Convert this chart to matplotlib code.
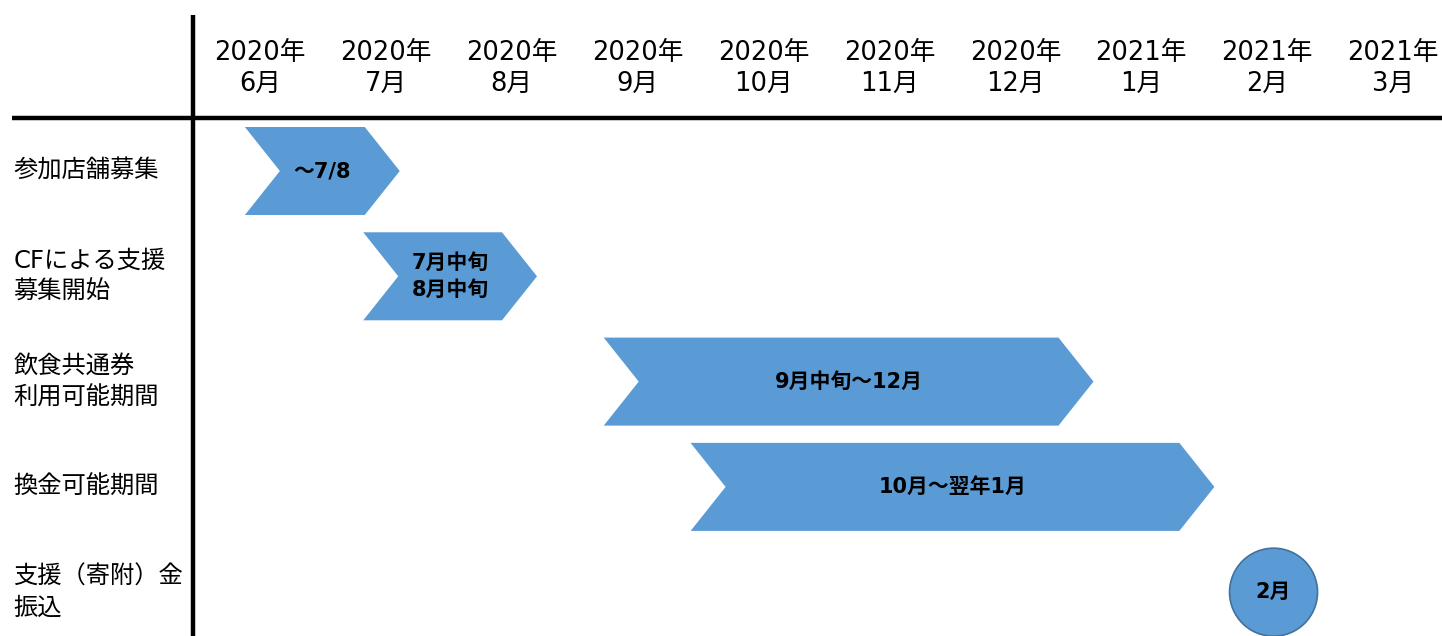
import matplotlib.pyplot as plt
from matplotlib.patches import Polygon, Ellipse

plt.rcParams['font.family'] = ['DejaVu Sans', 'Noto Sans CJK JP']

# months along the top (0 = 2020/6)
months = ['2020年\n6月', '2020年\n7月', '2020年\n8月', '2020年\n9月', '2020年\n10月',
          '2020年\n11月', '2020年\n12月', '2021年\n1月', '2021年\n2月', '2021年\n3月']

# task rows
tasks = ['参加店舗募集', 'CFによる支援\n募集開始', '飲食共通券\n利用可能期間', '換金可能期間', '支援（寄附）金\n振込']

# chevron spans in month units (start of notch side, arrow tip)
bar_start = [-0.12, 0.82, 2.73, 3.42]
bar_end = [1.11, 2.2, 6.62, 7.58]
bar_text = ['～7/8', '7月中旬\n8月中旬', '9月中旬～12月', '10月～翌年1月']

# milestone
ms_pos = 8.05
ms_text = '2月'

blue = '#5B9BD5'

fig = plt.figure(figsize=(14.42, 6.36), dpi=100)
ax = fig.add_axes([0, 0, 1, 1])
ax.set_xlim(-2.065, 9.388)
ax.set_ylim(4.416, -1.624)
ax.axis('off')

# grid lines
ax.plot([-0.532, -0.532], [-1.48, 4.416], color='black', lw=3.2, solid_capstyle='butt')
ax.plot([-1.97, 9.388], [-0.503, -0.503], color='black', lw=3.2, solid_capstyle='butt')

for i, m in enumerate(months):
    ax.text(i, -0.975, m, ha='center', va='center', fontsize=18.5, linespacing=1.25)

for r, t in enumerate(tasks):
    ax.text(-1.96, r, t, ha='left', va='center', fontsize=17.5, linespacing=1.4)

h = 0.836 / 2
d = 0.278
for r, (s, e, t) in enumerate(zip(bar_start, bar_end, bar_text)):
    pts = [(s, r - h), (e - d, r - h), (e, r), (e - d, r + h), (s, r + h), (s + d, r)]
    ax.add_patch(Polygon(pts, closed=True, facecolor=blue, edgecolor='none'))
    ax.text((s + e) / 2, r, t, ha='center', va='center', fontsize=15,
            fontweight='bold', linespacing=1.4)

ax.add_patch(Ellipse((ms_pos, 4), 0.699, 0.836, facecolor=blue, edgecolor='#41719C', lw=1.2))
ax.text(ms_pos, 4, ms_text, ha='center', va='center', fontsize=15, fontweight='bold')

fig.savefig('out.png', dpi=100)
